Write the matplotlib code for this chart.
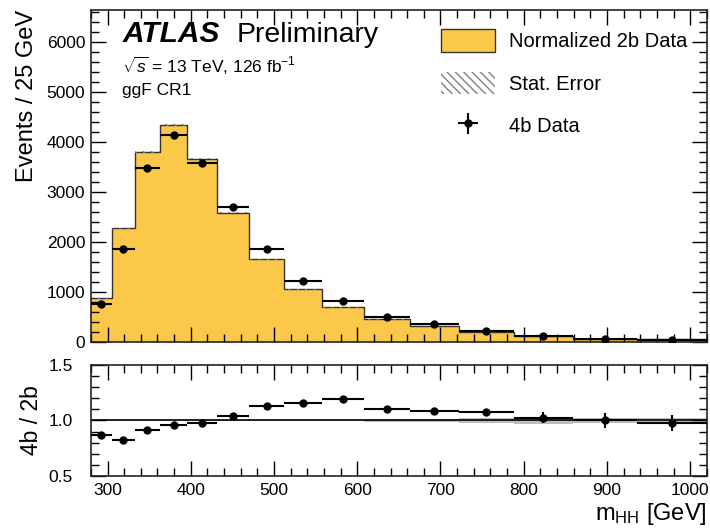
import numpy as np
import matplotlib
matplotlib.use("Agg")
import matplotlib.pyplot as plt
from matplotlib.patches import Patch
from matplotlib.ticker import MultipleLocator

plt.rcParams['font.family'] = ['Liberation Sans', 'DejaVu Sans']
plt.rcParams['mathtext.fontset'] = 'custom'
plt.rcParams['mathtext.rm'] = 'Liberation Sans'
plt.rcParams['mathtext.it'] = 'Liberation Sans:italic'
plt.rcParams['hatch.linewidth'] = 1.0

# ---- data (events / 25 GeV) ----
bin_edges = [280, 305, 333, 363, 396, 431, 470, 512, 558, 608, 663, 722, 788, 859, 936, 1020]
norm_2b = [867, 2267, 3800, 4333, 3667, 2580, 1647, 1047, 687, 447, 320, 200, 113, 48, 45]
stat_err_2b = [6, 11, 15, 17, 15, 13, 10, 7, 6, 5, 4, 4, 4, 1.0, 0.9]
data_4b = [750, 1866, 3481, 4138, 3579, 2688, 1859, 1210, 821, 494, 347, 215, 116, 48, 44]
err_4b = [7, 15, 21, 25, 22, 19, 15, 12, 10, 7.5, 6, 6.5, 5.2, 3.4, 3.1]

edges = np.array(bin_edges, dtype=float)
h2b = np.array(norm_2b, dtype=float)
e2b = np.array(stat_err_2b, dtype=float)
d4b = np.array(data_4b, dtype=float)
e4b = np.array(err_4b, dtype=float)
centers = 0.5 * (edges[:-1] + edges[1:])
halfw = 0.5 * (edges[1:] - edges[:-1])
ratio = d4b / h2b
ratio_err = e4b / h2b
band_rel = e2b / h2b

yellow = '#fbc84a'

fig = plt.figure(figsize=(7.10, 5.28), dpi=100)
ax = fig.add_axes([0.128, 0.3528, 0.8676, 0.6282])
rax = fig.add_axes([0.128, 0.0985, 0.8676, 0.2102])

def step(vals):
    return np.append(vals, vals[-1])

# main panel
ax.fill_between(edges, 0, step(h2b), step='post', facecolor=yellow, edgecolor='none', zorder=1)
ax.step(edges, step(h2b), where='post', color='#333333', lw=1.0, zorder=2)
ax.fill_between(edges, step(h2b - e2b), step(h2b + e2b), step='post', facecolor='none',
                edgecolor='#808080', hatch='\\\\\\\\', lw=0, zorder=3)
eb = ax.errorbar(centers, d4b, xerr=halfw, yerr=e4b, fmt='o', color='black', ms=5,
                 elinewidth=1.5, capsize=0, zorder=4)

ax.set_xlim(280, 1020)
ax.set_ylim(0, 6640)
ax.set_ylabel('Events / 25 GeV', fontsize=17, loc='top', labelpad=6)
ax.yaxis.set_major_locator(MultipleLocator(1000))
ax.yaxis.set_minor_locator(MultipleLocator(200))
ax.xaxis.set_major_locator(MultipleLocator(100))
ax.xaxis.set_minor_locator(MultipleLocator(20))
ax.tick_params(labelbottom=False)

for a in (ax, rax):
    a.tick_params(which='both', direction='in', top=True, right=True, labelsize=12.5)
    a.tick_params(which='major', length=11, width=1)
    a.tick_params(which='minor', length=6, width=1)
    for s in a.spines.values():
        s.set_linewidth(1.2)
        s.set_color('#222222')

ax.tick_params(axis='y', pad=4)

ax.text(0.052, 0.905, 'ATLAS', transform=ax.transAxes, fontsize=21.5, fontweight='bold',
        fontstyle='italic', va='baseline')
ax.text(0.237, 0.905, 'Preliminary', transform=ax.transAxes, fontsize=20.5, va='baseline')
ax.text(0.050, 0.810, r'$\sqrt{s}$ = 13 TeV, 126 fb$^{-1}$', transform=ax.transAxes,
        fontsize=12.5, va='baseline')
ax.text(0.050, 0.745, 'ggF CR1', transform=ax.transAxes, fontsize=12.5, va='baseline')

h1 = Patch(facecolor=yellow, edgecolor='#333333', lw=1.0)
h2 = Patch(facecolor='white', edgecolor='#808080', hatch='\\\\\\\\', lw=0)
leg = ax.legend([h1, h2, eb], ['Normalized 2b Data', 'Stat. Error', '4b Data'],
                loc='upper left', bbox_to_anchor=(0.568, 0.943), frameon=False,
                fontsize=14.5, handlelength=2.7, handleheight=1.35, labelspacing=1.0,
                handletextpad=0.7, borderpad=0, borderaxespad=0)

# ratio panel
rax.fill_between(edges, step(1 - band_rel), step(1 + band_rel), step='post',
                 facecolor='#bdbdbd', edgecolor='none', zorder=1)
rax.axhline(1.0, color='black', lw=1.2, zorder=2)
rax.errorbar(centers, ratio, xerr=halfw, yerr=ratio_err, fmt='o', color='black', ms=5,
             elinewidth=1.5, capsize=0, zorder=3)
rax.set_xlim(280, 1020)
rax.set_ylim(0.5, 1.5)
rax.yaxis.set_major_locator(MultipleLocator(0.5))
rax.yaxis.set_minor_locator(MultipleLocator(0.1))
rax.xaxis.set_major_locator(MultipleLocator(100))
rax.xaxis.set_minor_locator(MultipleLocator(20))
rax.yaxis.set_major_formatter(matplotlib.ticker.FormatStrFormatter('%.1f'))
rax.tick_params(axis='y', pad=13)
rax.tick_params(axis='x', pad=5)
rax.set_ylabel('4b / 2b', fontsize=16.5, labelpad=4)
rax.set_xlabel(r'm$_{\mathrm{HH}}$ [GeV]', fontsize=17, loc='right', labelpad=2)

fig.savefig('out.png', dpi=100)
